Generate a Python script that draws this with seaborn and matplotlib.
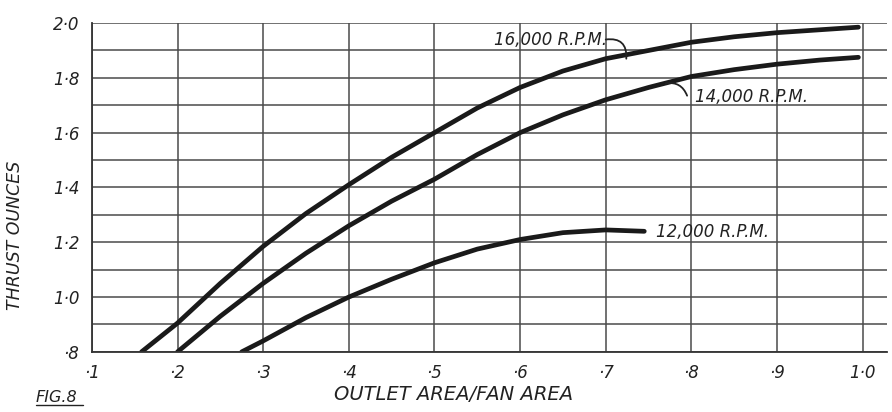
import pandas as pd
import numpy as np
import seaborn as sns
import matplotlib
matplotlib.use('Agg')
import matplotlib.pyplot as plt
from matplotlib.ticker import MultipleLocator

# values (outlet area / fan area vs thrust in ounces)
x_16000 = [0.158, 0.2, 0.25, 0.3, 0.35, 0.4, 0.45, 0.5, 0.55, 0.6, 0.65, 0.7, 0.75, 0.8, 0.85, 0.9, 0.995]
y_16000 = [0.8, 0.905, 1.05, 1.185, 1.305, 1.41, 1.51, 1.60, 1.69, 1.765, 1.825, 1.87, 1.90, 1.93, 1.95, 1.965, 1.985]

x_14000 = [0.2, 0.25, 0.3, 0.35, 0.4, 0.45, 0.5, 0.55, 0.6, 0.65, 0.7, 0.75, 0.8, 0.85, 0.9, 0.95, 0.995]
y_14000 = [0.8, 0.93, 1.05, 1.16, 1.26, 1.35, 1.43, 1.52, 1.60, 1.665, 1.72, 1.765, 1.805, 1.83, 1.85, 1.865, 1.875]

x_12000 = [0.275, 0.3, 0.35, 0.4, 0.45, 0.5, 0.55, 0.6, 0.65, 0.7, 0.745]
y_12000 = [0.8, 0.84, 0.925, 1.0, 1.065, 1.125, 1.175, 1.21, 1.235, 1.245, 1.24]

x_ticks = [0.1, 0.2, 0.3, 0.4, 0.5, 0.6, 0.7, 0.8, 0.9, 1.0]
x_ticklabels = ['·1', '·2', '·3', '·4', '·5', '·6', '·7', '·8', '·9', '1·0']
y_ticks = [0.8, 1.0, 1.2, 1.4, 1.6, 1.8, 2.0]
y_ticklabels = ['·8', '1·0', '1·2', '1·4', '1·6', '1·8', '2·0']

df = pd.concat([
    pd.DataFrame({'ratio': x_16000, 'thrust': y_16000, 'rpm': '16,000'}),
    pd.DataFrame({'ratio': x_14000, 'thrust': y_14000, 'rpm': '14,000'}),
    pd.DataFrame({'ratio': x_12000, 'thrust': y_12000, 'rpm': '12,000'}),
])

sns.set_style('white')
plt.rcParams['font.family'] = ['DejaVu Sans']

fig = plt.figure(figsize=(8.92, 4.12), dpi=100)
ax = fig.add_axes([0.103, 0.146, 0.891, 0.798])

sns.lineplot(data=df, x='ratio', y='thrust', hue='rpm', units='rpm', estimator=None, sort=False,
             palette=['#1a1a1a'] * 3, linewidth=3.4, legend=False, ax=ax)

ax.set_xlim(0.1, 1.028)
ax.set_ylim(0.8, 2.0)

ax.set_xticks(x_ticks)
ax.set_xticklabels(x_ticklabels, fontsize=12, style='italic', color='#222222')
ax.set_yticks(y_ticks)
ax.set_yticklabels(y_ticklabels, fontsize=12, style='italic', color='#222222')
ax.yaxis.set_minor_locator(MultipleLocator(0.1))
ax.tick_params(length=0, which='both', pad=9)

ax.grid(True, which='both', color='#4a4a4a', linewidth=1.1)
ax.set_axisbelow(True)
for side in ['top', 'right']:
    ax.spines[side].set_visible(False)
ax.spines['left'].set_color('#333333')
ax.spines['bottom'].set_color('#333333')
ax.spines['left'].set_linewidth(1.3)
ax.spines['bottom'].set_linewidth(1.3)

ax.set_xlabel('OUTLET AREA/FAN AREA', fontsize=14, style='italic', color='#222222', va='center')
ax.xaxis.set_label_coords(0.455, -0.13)
ax.set_ylabel('THRUST OUNCES', fontsize=12.5, style='italic', color='#222222', va='center')
ax.yaxis.set_label_coords(-0.097, 0.353)

# curve labels with little hooked leaders
ax.text(0.635, 1.94, '16,000 R.P.M.', fontsize=12, style='italic', color='#222222', ha='center', va='center')
ax.annotate('', xy=(0.724, 1.87), xytext=(0.70, 1.94),
            arrowprops=dict(arrowstyle='-', color='#222222', lw=1.3, connectionstyle='arc3,rad=-0.6',
                            shrinkA=0, shrinkB=0))
ax.text(0.87, 1.73, '14,000 R.P.M.', fontsize=12, style='italic', color='#222222', ha='center', va='center')
ax.annotate('', xy=(0.77, 1.78), xytext=(0.795, 1.735),
            arrowprops=dict(arrowstyle='-', color='#222222', lw=1.3, connectionstyle='arc3,rad=0.4',
                            shrinkA=0, shrinkB=0))
ax.text(0.759, 1.237, '12,000 R.P.M.', fontsize=12, style='italic', color='#222222', va='center')

fig.text(0.04, 0.025, 'FIG.8', fontsize=11.5, style='italic', color='#222222')
fig.add_artist(plt.Line2D([0.04, 0.093], [0.018, 0.018], color='#222222', lw=1))

fig.savefig('out.png', dpi=100)
